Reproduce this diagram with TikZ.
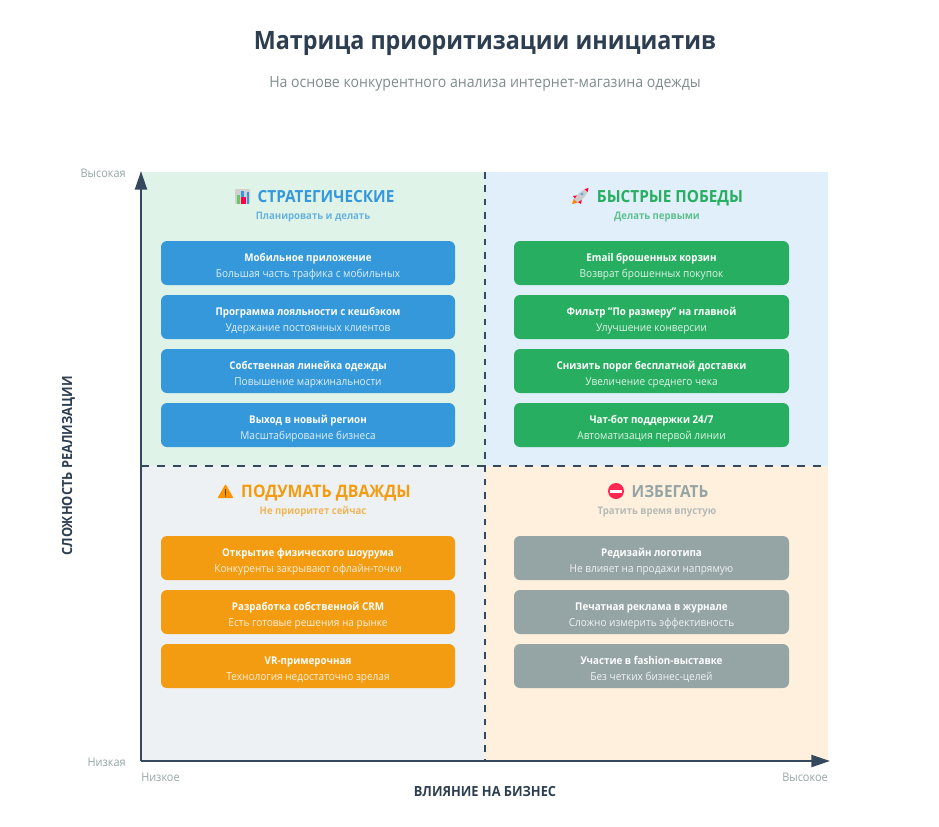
\documentclass[tikz,border=0pt]{standalone}
\usepackage{fontspec}
\setmainfont[FakeStretch=0.92]{Open Sans}
\usetikzlibrary{arrows.meta}
\definecolor{ink}{HTML}{2C3E50}
\definecolor{axis}{HTML}{34495E}
\definecolor{muted}{HTML}{7F8C8D}
\definecolor{lab}{HTML}{95A5A6}
\definecolor{cblue}{HTML}{3498DB}
\definecolor{cgreen}{HTML}{27AE60}
\definecolor{corange}{HTML}{F39C12}
\definecolor{cgrey}{HTML}{95A5A6}
\definecolor{qtl}{HTML}{E0F3E8}
\definecolor{qtr}{HTML}{E1EFFA}
\definecolor{qbl}{HTML}{EEF1F3}
\definecolor{qbr}{HTML}{FEF0DD}
\newcommand{\fsz}[1]{\fontsize{#1}{#1}\selectfont}
\newcommand{\itembox}[7]{% name, x-left, width, y-top, colour, title, sub
  \node[itemnode, fill=#5, minimum width=#3*0.75pt] (#1) at (#2+#3/2,#4+22) {};
  \node[ititle] (#1t) at (#2+#3/2,#4+18) {#6};
  \node[isub] (#1s) at (#2+#3/2,#4+34) {#7};
}
\tikzset{
  x=0.75pt,y=-0.75pt,
  itemnode/.style={draw=none,rounded corners=4.5pt,minimum height=33pt,inner sep=0pt},
  ititle/.style={text=white,font=\fsz{8}\bfseries,inner sep=0pt,text height=6pt,text depth=1.6pt},
  isub/.style={text=white,text opacity=0.85,font=\fsz{8.2},inner sep=0pt,text height=6pt,text depth=1.6pt},
  qhead/.style={font=\fsz{12.5}\bfseries,inner sep=0pt,text height=9pt,text depth=0pt},
  qsub/.style={font=\fsz{7.8}\bfseries,inner sep=0pt,opacity=0.7,text height=6pt,text depth=1.6pt},
  qfill/.style={draw=none,inner sep=0pt,anchor=north west},
  axline/.style={draw=axis,line width=1.7pt,-{Triangle[length=14pt,width=9pt]}},
  vdivider/.style={draw=axis,line width=1.5pt,dash pattern=on 5pt off 5pt},
  hdivider/.style={draw=axis,line width=1.5pt,dash pattern=on 6pt off 6pt},
  axlab/.style={text=lab,font=\fsz{8.9},inner sep=0pt,text height=6.5pt,text depth=0pt},
  axtitle/.style={text=ink,font=\fsz{10.45}\bfseries,inner sep=0pt,text height=7.5pt,text depth=0pt},
}
\begin{document}
\begin{tikzpicture}
\useasboundingbox (0,0) rectangle (939,826);
% quadrants
\node[qfill,fill=qtl,minimum width=258pt,minimum height=220.5pt] (qa) at (141,172) {};
\node[qfill,fill=qtr,minimum width=257.25pt,minimum height=220.5pt] (qb) at (485,172) {};
\node[qfill,fill=qbl,minimum width=258pt,minimum height=221.25pt] (qc) at (141,466) {};
\node[qfill,fill=qbr,minimum width=257.25pt,minimum height=221.25pt] (qd) at (485,466) {};
% title
\node[text=ink,font=\fsz{19}\bfseries,inner sep=0pt] (title) at (485,43) {Матрица приоритизации инициатив};
\node[text=muted,font=\fsz{11.5},inner sep=0pt] (subtitle) at (485,84) {На основе конкурентного анализа интернет-магазина одежды};
% dividers
\coordinate (dt) at (485,172); \coordinate (db) at (485,761);
\coordinate (dl) at (141,466); \coordinate (dr) at (828,466);
\draw[vdivider] (dt) -- (db);
\draw[hdivider] (dl) -- (dr);
% axes
\coordinate (o) at (141,761); \coordinate (ytop) at (141,171); \coordinate (xend) at (830,761);
\draw[axline] (o) -- (ytop);
\draw[axline] (o) -- (xend);
% axis labels
\node[axlab,anchor=east] (hi) at (126,173) {Высокая};
\node[axlab,anchor=east] (lo) at (126,762) {Низкая};
\node[axlab,anchor=west] (xlo) at (141,777) {Низкое};
\node[axlab,anchor=east] (xhi) at (828,777) {Высокое};
\node[axtitle] (xt) at (485,791) {ВЛИЯНИЕ НА БИЗНЕС};
\node[axtitle,rotate=90] (yt) at (67,466) {СЛОЖНОСТЬ РЕАЛИЗАЦИИ};
% Q1
\node[qhead,text=cblue] (h1) at (326,196) {СТРАТЕГИЧЕСКИЕ};
\node[qsub,text=cblue] (s1) at (313,217) {Планировать и делать};
\fill[rounded corners=0.8pt,black!18] (235,189) rectangle (250,204);
\fill[green!65!black!60] (236.5,195) rectangle (239.5,203.5);
\fill[cblue] (240.5,191) rectangle (243.5,203.5);
\fill[red!70!magenta] (241,197) rectangle (246,203.5);
\fill[cblue] (246.5,192) rectangle (249,203.5);
\itembox{a1}{161}{294}{241}{cblue}{Мобильное приложение}{Большая часть трафика с мобильных}
\itembox{a2}{161}{294}{295}{cblue}{Программа лояльности с кешбэком}{Удержание постоянных клиентов}
\itembox{a3}{161}{294}{349}{cblue}{Собственная линейка одежды}{Повышение маржинальности}
\itembox{a4}{161}{294}{403}{cblue}{Выход в новый регион}{Масштабирование бизнеса}
% Q2
\node[qhead,text=cgreen] (h2) at (670,196) {БЫСТРЫЕ ПОБЕДЫ};
\node[qsub,text=cgreen] (s2) at (657,217) {Делать первыми};
\fill[orange] (572,204) -- (574,198.5) -- (578,202.5) -- cycle;
\fill[red!75!magenta] (573,196) -- (579,195) -- (576,200) -- cycle;
\fill[red!75!magenta] (582,198.5) -- (581,204) -- (577,201.5) -- cycle;
\fill[black!20] (574.5,199.5) .. controls (577,194) and (582,189.5) .. (588.5,188) .. controls (588,194) and (583,199.5) .. (577.5,202.5) -- cycle;
\fill[red!75!magenta] (584.5,189.2) -- (588.5,188) -- (587.6,192) -- cycle;
\fill[cblue!80] (582,194) circle (1.7);
\itembox{b1}{514}{275}{241}{cgreen}{Email брошенных корзин}{Возврат брошенных покупок}
\itembox{b2}{514}{275}{295}{cgreen}{Фильтр "По размеру" на главной}{Улучшение конверсии}
\itembox{b3}{514}{275}{349}{cgreen}{Снизить порог бесплатной доставки}{Увеличение среднего чека}
\itembox{b4}{514}{275}{403}{cgreen}{Чат-бот поддержки 24/7}{Автоматизация первой линии}
% Q3
\node[qhead,text=corange,font=\fsz{12.9}\bfseries] (h3) at (326,491) {ПОДУМАТЬ ДВАЖДЫ};
\node[qsub,text=corange] (s3) at (313,512) {Не приоритет сейчас};
\fill[orange!85!yellow,rounded corners=0.6pt] (217.5,498) -- (225.5,484) -- (233.5,498) -- cycle;
\fill[black!75] (225,488.5) rectangle (226,494.5);
\fill[black!75] (225.5,496) circle (0.7);
\itembox{c1}{161}{294}{536}{corange}{Открытие физического шоурума}{Конкуренты закрывают офлайн-точки}
\itembox{c2}{161}{294}{590}{corange}{Разработка собственной CRM}{Есть готовые решения на рынке}
\itembox{c3}{161}{294}{644}{corange}{VR-примерочная}{Технология недостаточно зрелая}
% Q4
\node[qhead,text=cgrey] (h4) at (670,491) {ИЗБЕГАТЬ};
\node[qsub,text=cgrey] (s4) at (657,512) {Тратить время впустую};
\fill[red!80!magenta!85!white] (616,491) circle (8);
\fill[white] (610,489.5) rectangle (622,492.5);
\itembox{d1}{514}{275}{536}{cgrey}{Редизайн логотипа}{Не влияет на продажи напрямую}
\itembox{d2}{514}{275}{590}{cgrey}{Печатная реклама в журнале}{Сложно измерить эффективность}
\itembox{d3}{514}{275}{644}{cgrey}{Участие в fashion-выставке}{Без четких бизнес-целей}
\end{tikzpicture}
\end{document}
